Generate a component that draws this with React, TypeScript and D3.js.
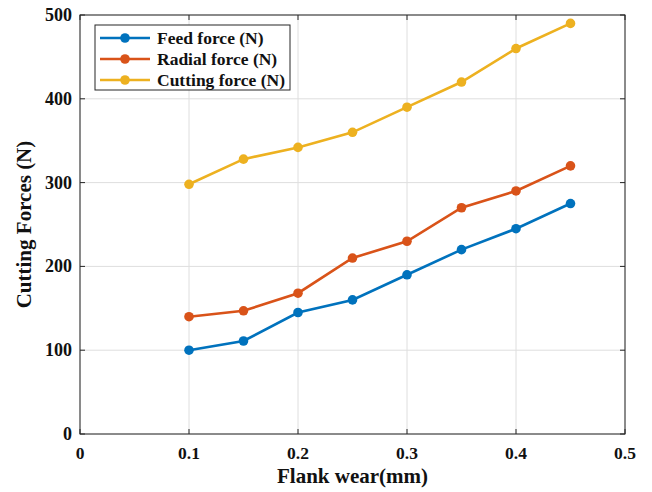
import React from "react";
import * as d3 from "d3";

const wear = [0.1, 0.15, 0.2, 0.25, 0.3, 0.35, 0.4, 0.45];
const feedForce = [100, 111, 145, 160, 190, 220, 245, 275];
const radialForce = [140, 147, 168, 210, 230, 270, 290, 320];
const cuttingForce = [298, 328, 342, 360, 390, 420, 460, 490];
const seriesNames = ["Feed force (N)", "Radial force (N)", "Cutting force (N)"];
const seriesColors = ["#0072BD", "#D95319", "#EDB120"];
const xTicks = [0, 0.1, 0.2, 0.3, 0.4, 0.5];
const yTicks = [0, 100, 200, 300, 400, 500];

const W = 652;
const H = 492;
const m = { left: 80, right: 27, top: 15, bottom: 58 };
const font = "'Liberation Serif', 'Times New Roman', serif";

const App: React.FC = () => {
  const x = d3.scaleLinear().domain([0, 0.5]).range([m.left, W - m.right]);
  const y = d3.scaleLinear().domain([0, 500]).range([H - m.bottom, m.top]);
  const line = d3
    .line<[number, number]>()
    .x(d => x(d[0]))
    .y(d => y(d[1]));

  const all = [feedForce, radialForce, cuttingForce];
  const axisColor = "#262626";

  return (
    <svg
      width={W}
      height={H}
      style={{ position: "absolute", left: 0, top: 0, background: "white" }}
      fontFamily={font}
      fontWeight="bold"
    >
      {/* grid */}
      {xTicks.map(t => (
        <line key={"gx" + t} x1={x(t)} x2={x(t)} y1={y(0)} y2={y(500)} stroke="#dedede" strokeWidth={1} />
      ))}
      {yTicks.map(t => (
        <line key={"gy" + t} x1={x(0)} x2={x(0.5)} y1={y(t)} y2={y(t)} stroke="#dedede" strokeWidth={1} />
      ))}

      {/* series */}
      {all.map((vals, i) => {
        const pts = wear.map((w, j) => [w, vals[j]] as [number, number]);
        return (
          <g key={"s" + i}>
            <path d={line(pts) || ""} fill="none" stroke={seriesColors[i]} strokeWidth={2.6} />
            {pts.map((p, j) => (
              <circle key={j} cx={x(p[0])} cy={y(p[1])} r={4.8} fill={seriesColors[i]} />
            ))}
          </g>
        );
      })}

      {/* axes box */}
      <rect x={x(0)} y={y(500)} width={x(0.5) - x(0)} height={y(0) - y(500)} fill="none" stroke={axisColor} strokeWidth={1} />
      {xTicks.map(t => (
        <g key={"tx" + t}>
          <line x1={x(t)} x2={x(t)} y1={y(0)} y2={y(0) - 5} stroke={axisColor} />
          <line x1={x(t)} x2={x(t)} y1={y(500)} y2={y(500) + 5} stroke={axisColor} />
          <text x={x(t)} y={y(0) + 25} textAnchor="middle" fontSize={17.5} fill="#111">
            {t === 0 ? "0" : t.toString()}
          </text>
        </g>
      ))}
      {yTicks.map(t => (
        <g key={"ty" + t}>
          <line x1={x(0)} x2={x(0) + 5} y1={y(t)} y2={y(t)} stroke={axisColor} />
          <line x1={x(0.5)} x2={x(0.5) - 5} y1={y(t)} y2={y(t)} stroke={axisColor} />
          <text x={x(0) - 8} y={y(t) + 6} textAnchor="end" fontSize={18} fill="#111">
            {t}
          </text>
        </g>
      ))}

      {/* axis labels */}
      <text x={(x(0) + x(0.5)) / 2} y={483} textAnchor="middle" fontSize={21} fill="#111">
        Flank wear(mm)
      </text>
      <text
        transform={`translate(31, ${(y(0) + y(500)) / 2}) rotate(-90)`}
        textAnchor="middle"
        fontSize={21}
        fill="#111"
      >
        Cutting Forces (N)
      </text>

      {/* legend */}
      <g transform="translate(95, 25)">
        <rect x={0} y={0} width={195} height={65} fill="white" stroke={axisColor} strokeWidth={1} />
        {seriesNames.map((n, i) => (
          <g key={n} transform={`translate(0, ${13 + i * 21})`}>
            <line x1={5} x2={55} y1={0} y2={0} stroke={seriesColors[i]} strokeWidth={2.6} />
            <circle cx={30} cy={0} r={4.8} fill={seriesColors[i]} />
            <text x={62} y={6} fontSize={17.5} fill="#111">
              {n}
            </text>
          </g>
        ))}
      </g>
    </svg>
  );
};

export default App;
